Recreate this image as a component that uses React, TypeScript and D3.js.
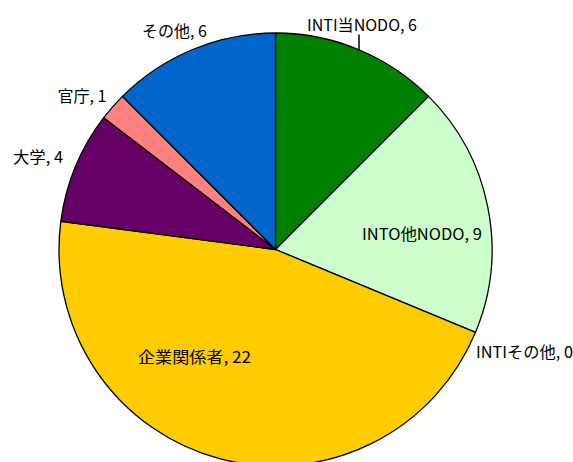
import React, { useRef, useEffect } from 'react';
import * as d3 from 'd3';

const categories = ['INTI当NODO', 'INTO他NODO', 'INTIその他', '企業関係者', '大学', '官庁', 'その他'];
const values = [6, 9, 0, 22, 4, 1, 6];
const colors = ['#008000', '#CCFFCC', '#99CCFF', '#FFCC00', '#660066', '#FF8080', '#0066CC'];

// label layout: centre x, centre y, fitted width
const labelPos: [number, number, number][] = [
  [362, 24, 110],
  [422, 233, 120],
  [524.5, 350.5, 97],
  [194.5, 355.5, 113],
  [38, 156, 50],
  [82, 94.5, 49],
  [174.5, 30, 65],
];

const W = 573;
const H = 462;

const App: React.FC = () => {
  const svgRef = useRef<SVGSVGElement>(null);

  useEffect(() => {
    if (!svgRef.current) return;
    const svg = d3.select(svgRef.current);
    svg.selectAll('*').remove();

    const cx = 275.5;
    const cy = 249.5;
    const r = 216.5;

    const pie = d3.pie<number>().sort(null).value((d) => d);
    const arcs = pie(values);
    const arc = d3.arc<d3.PieArcDatum<number>>().innerRadius(0).outerRadius(r);

    const g = svg.append('g').attr('transform', `translate(${cx},${cy})`);

    g.selectAll('path')
      .data(arcs.filter((a) => a.value > 0))
      .enter().append('path')
      .attr('d', arc)
      .attr('fill', (d) => colors[d.index])
      .attr('stroke', '#000')
      .attr('stroke-width', 1.3)
      .attr('stroke-linejoin', 'round');

    // leader line for the first label
    const lx = labelPos[0][0] - 3;
    const edgeY = -Math.sqrt(r * r - (lx - cx) * (lx - cx));
    svg.append('line')
      .attr('x1', lx).attr('x2', lx)
      .attr('y1', 34.5).attr('y2', cy + edgeY + 0.5)
      .attr('stroke', '#000').attr('stroke-width', 1.5);

    svg.selectAll('text.lbl')
      .data(categories)
      .enter().append('text')
      .attr('class', 'lbl')
      .attr('x', (_, i) => labelPos[i][0])
      .attr('y', (_, i) => labelPos[i][1])
      .attr('text-anchor', 'middle')
      .attr('dominant-baseline', 'central')
      .attr('font-family', '"Noto Sans CJK JP", "Noto Sans", sans-serif')
      .attr('font-size', '16px')
      .attr('fill', '#000')
      .attr('textLength', (_, i) => labelPos[i][2])
      .attr('lengthAdjust', 'spacingAndGlyphs')
      .text((d, i) => `${d}, ${values[i]}`);
  }, []);

  return (
    <div style={{ position: 'absolute', left: 0, top: 0, width: W, height: H, overflow: 'hidden', background: '#fff' }}>
      <svg ref={svgRef} width={W} height={H} style={{ display: 'block' }} />
    </div>
  );
};

export default App;
